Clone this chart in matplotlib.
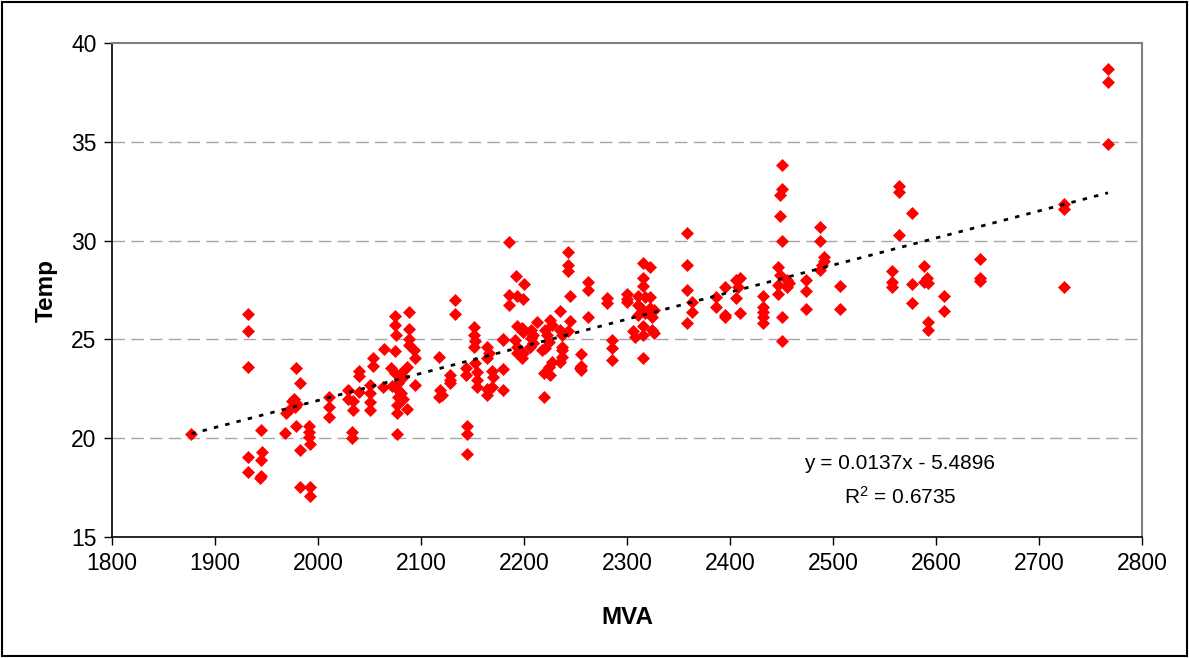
import matplotlib
matplotlib.use("Agg")
import matplotlib.pyplot as plt
from matplotlib.patches import Rectangle
import numpy as np

plt.rcParams['font.family'] = ['Liberation Sans', 'DejaVu Sans']
plt.rcParams['mathtext.fontset'] = 'custom'
plt.rcParams['mathtext.rm'] = 'Liberation Sans'
plt.rcParams['mathtext.it'] = 'Liberation Sans'
plt.rcParams['mathtext.bf'] = 'Liberation Sans:bold'

mva = [
    1877,
    1932, 1932, 1932, 1932, 1932,
    1945, 1946, 1945, 1944, 1945,
    1968, 1969, 1973, 1975, 1978, 1980, 1977,
    1979, 1983, 1979, 1983, 1983,
    1991, 1991, 1991, 1992, 1992, 1992,
    2011, 2011, 2011,
    2029, 2029, 2034, 2034, 2033, 2033,
    2040, 2040, 2040,
    2050, 2050, 2050, 2050,
    2053, 2053,
    2064, 2063,
    2072, 2075, 2075, 2076, 2075,
    2071, 2075, 2081, 2086, 2083,
    2078, 2078, 2078, 2077, 2077, 2081, 2083, 2086,
    2077,
    2088, 2088, 2088, 2088, 2093, 2094, 2094,
    2117, 2118, 2120, 2117,
    2128, 2128, 2128,
    2133, 2133,
    2144, 2144, 2145, 2145, 2145,
    2151, 2151, 2152, 2151, 2152, 2154, 2154, 2154,
    2164, 2166, 2164, 2164, 2164, 2169, 2169, 2170,
    2180, 2180, 2180,
    2185, 2185, 2193, 2199, 2200, 2185, 2192,
    2191, 2193, 2199, 2198,
    2193, 2198, 2199, 2207, 2209, 2220, 2222, 2235, 2237,
    2213, 2225, 2227,
    2180, 2207, 2209, 2206, 2224, 2220, 2217, 2237, 2237,
    2193, 2227, 2224, 2219, 2225, 2237, 2235, 2254,
    2219,
    2243, 2243, 2243,
    2262, 2262, 2245, 2235, 2245, 2262, 2243,
    2255, 2255, 2255,
    2281, 2281,
    2285, 2285, 2285,
    2300, 2300, 2300,
    2316, 2322, 2316, 2316,
    2311, 2317, 2322, 2311, 2314, 2311, 2317, 2322, 2324, 2326,
    2306, 2308, 2316, 2316, 2324, 2326,
    2316,
    2358, 2358, 2358, 2363, 2363, 2358,
    2386, 2386, 2395, 2395, 2395,
    2406, 2410, 2408, 2406, 2410,
    2432, 2432, 2432, 2432, 2432,
    2450, 2450, 2449, 2449, 2450,
    2447, 2449, 2447, 2447,
    2455, 2457, 2455,
    2450, 2450,
    2474, 2474, 2474,
    2487, 2487, 2491, 2491, 2489, 2487,
    2507, 2507,
    2557, 2557, 2557,
    2564, 2564, 2564,
    2577, 2577, 2577,
    2588, 2591, 2588, 2592,
    2592, 2592,
    2608, 2608,
    2643, 2643, 2643,
    2724, 2724, 2724,
    2767, 2767, 2767,
]

temp = [
    20.2,
    26.3, 25.4, 23.6, 19.05, 18.3,
    20.4, 19.3, 18.9, 18.0, 18.1,
    20.25, 21.25, 21.5, 21.9, 21.6, 21.75, 22.0,
    23.55, 22.8, 20.6, 19.4, 17.55,
    20.6, 20.3, 20.05, 19.7, 17.55, 17.1,
    22.1, 21.6, 21.05,
    22.45, 22.0, 21.9, 21.45, 20.33, 20.0,
    23.4, 23.15, 22.35,
    22.7, 22.27, 21.85, 21.43,
    24.05, 23.65,
    24.5, 22.6,
    22.64, 26.2, 25.75, 25.2, 24.43,
    23.55, 23.3, 23.28, 23.6, 23.1,
    22.78, 22.44, 22.1, 21.68, 21.26, 22.27, 22.0, 21.5,
    20.2,
    26.4, 25.55, 25.0, 24.7, 24.46, 24.04, 22.7,
    24.1, 22.44, 22.2, 22.1,
    23.2, 22.95, 22.78,
    27.0, 26.27,
    23.54, 23.2, 20.6, 20.2, 19.2,
    25.64, 25.2, 24.9, 24.63, 23.8, 23.37, 22.95, 22.6,
    24.63, 24.3, 24.04, 22.5, 22.2, 22.6, 23.4, 23.1,
    25.0, 23.5, 22.44,
    27.25, 26.74, 27.2, 27.03, 27.8, 29.95, 28.2,
    24.97, 24.63, 24.3, 24.04,
    25.69, 25.56, 25.39, 25.48, 25.22, 25.48, 25.22, 25.48, 25.22,
    25.9, 25.98, 25.73,
    24.97, 25.06, 24.8, 24.63, 24.88, 24.55, 24.46, 24.63, 24.46,
    24.3, 23.87, 23.62, 23.28, 23.2, 24.12, 23.87, 23.54,
    22.1,
    29.44, 28.77, 28.46,
    27.9, 27.5, 27.2, 26.45, 25.95, 26.15, 25.4,
    24.25, 23.65, 23.45,
    27.1, 26.85,
    24.95, 24.55, 23.95,
    27.3, 27.05, 26.9,
    28.85, 28.68, 28.1, 27.7,
    27.2, 27.16, 27.16, 26.74, 26.57, 26.23, 26.32, 26.57, 26.15, 26.49,
    25.4, 25.14, 25.7, 25.2, 25.5, 25.3,
    24.05,
    30.37, 28.77, 27.5, 26.9, 26.4, 25.85,
    27.13, 26.62, 27.67, 26.23, 26.15,
    28.0, 28.1, 27.67, 27.08, 26.35,
    27.2, 26.65, 26.37, 26.15, 25.85,
    33.83, 32.6, 32.3, 31.25, 30.0,
    28.68, 28.26, 27.75, 27.3,
    28.0, 27.84, 27.67,
    26.15, 24.9,
    28.0, 27.46, 26.52,
    30.7, 30.0, 29.18, 28.98, 28.77, 28.5,
    27.7, 26.52,
    28.46, 27.92, 27.67,
    32.78, 32.44, 30.28,
    31.4, 27.8, 26.83,
    28.73, 28.1, 27.92, 27.84,
    25.9, 25.48,
    27.2, 26.44,
    29.05, 28.1, 27.97,
    31.83, 31.58, 27.67,
    38.7, 38.04, 34.87,
]

trend_slope = 0.0137
trend_intercept = -5.4896
r_squared = 0.6735

x_ticks = [1800, 1900, 2000, 2100, 2200, 2300, 2400, 2500, 2600, 2700, 2800]
y_ticks = [15, 20, 25, 30, 35, 40]

fig = plt.figure(figsize=(11.89, 6.58), dpi=100)
ax = fig.add_axes([112/1189, 1 - 537/658, (1142-112)/1189, (537-43)/658])

for yv in y_ticks[1:-1]:
    ax.axhline(yv, color='#a6a6a6', lw=1.0, linestyle=(0, (9, 4.5)), zorder=1)

tx = np.array([min(mva), max(mva)])
ax.plot(tx, trend_slope * tx + trend_intercept, color='black', lw=2.0,
        linestyle=(0, (1.6, 2.6)), zorder=3)

ax.plot(mva, temp, linestyle='none', marker='D', markersize=5.8,
        color='#ff0000', markeredgecolor='#ff0000', markeredgewidth=0.5, zorder=2)

ax.set_xlim(1800, 2800)
ax.set_ylim(15, 40)
ax.set_xticks(x_ticks)
ax.set_yticks(y_ticks)
ax.tick_params(axis='both', direction='out', length=6, width=1, labelsize=16.5, colors='black', pad=5)

for s in ['left', 'bottom']:
    ax.spines[s].set_color('black')
    ax.spines[s].set_linewidth(1.2)
for s in ['top', 'right']:
    ax.spines[s].set_color('#808080')
    ax.spines[s].set_linewidth(1.5)

ax.set_xlabel('MVA', fontsize=17.5, fontweight='bold', labelpad=22)
ax.set_ylabel('Temp', fontsize=17.5, fontweight='bold', labelpad=10)

ax.text(2565, 18.74, f'y = {trend_slope}x - {abs(trend_intercept)}', fontsize=15,
        ha='center', va='center')
ax.text(2565, 17.05, f'R$^2$ = {r_squared}', fontsize=15, ha='center', va='center')

fig.patches.append(Rectangle((2/1189, 2/658), 1185/1189, 654/658, transform=fig.transFigure,
                             fill=False, ec='black', lw=1.5))

fig.savefig('out.png', dpi=100)
